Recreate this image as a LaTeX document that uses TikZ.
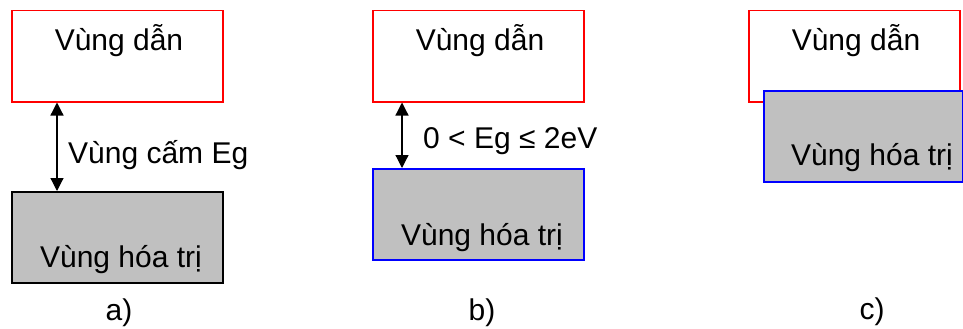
\documentclass[tikz,border=0pt]{standalone}
\usepackage{fontspec}
\setmainfont{Liberation Sans}
\usetikzlibrary{arrows.meta}
\definecolor{bandgray}{RGB}{192,192,192}
\tikzset{
condband/.style={
	draw=red,
	fill=white,
	line width=1.5pt,
	minimum width=211pt,
	minimum height=91pt,
	anchor=north west,
	inner sep=0pt
}
}
\tikzset{
valband/.style={
	draw,
	fill=bandgray,
	line width=1.5pt,
	minimum width=211pt,
	minimum height=91pt,
	anchor=north west,
	inner sep=0pt
}
}
\tikzset{
txt/.style={
	font=\fontsize{30}{35}\selectfont,
	inner sep=0pt,
	anchor=base
}
}
\tikzset{
gap/.style={
	{Triangle[length=13pt,width=13pt]}-{Triangle[length=13pt,width=13pt]},
	line width=1.2pt
}
}

\begin{document}
\begin{tikzpicture}[x=1pt,y=-1pt]
		\useasboundingbox (0,0) rectangle (963,329);
		\node[condband] (cbA) at (11,10) {};
		\node[valband] (vbA) at (11,191) {};
		\draw[gap] ([xshift=46pt]cbA.south west) -- ([xshift=46pt]vbA.north west);
		\node[txt] (cbAt) at (119,51) {Vùng dẫn};
		\node[txt] (vbAt) at (121,267) {Vùng hóa trị};
		\node[txt,anchor=base west] (gapA) at (68,163) {Vùng cấm Eg};
		\node[txt] (capA) at (119,320) {a)};
		\node[condband] (cbB) at (372,10) {};
		\node[valband,draw=blue] (vbB) at (372,168) {};
		\draw[gap] ([xshift=30pt]cbB.south west) -- ([xshift=30pt]vbB.north west);
		\node[txt] (cbBt) at (480,51) {Vùng dẫn};
		\node[txt] (vbBt) at (482,245) {Vùng hóa trị};
		\node[txt,anchor=base west] (gapB) at (423,148) {0 < Eg ≤ 2eV};
		\node[txt] (capB) at (482,320) {b)};
		\node[condband] (cbC) at (748,10) {};
		\node[valband,draw=blue,minimum width=199pt] (vbC) at (763,90) {};
		\node[txt] (cbCt) at (856,51) {Vùng dẫn};
		\node[txt] (vbCt) at (872,165) {Vùng hóa trị};
		\node[txt] (capC) at (872,319) {c)};
		\end{tikzpicture}
\end{document}
